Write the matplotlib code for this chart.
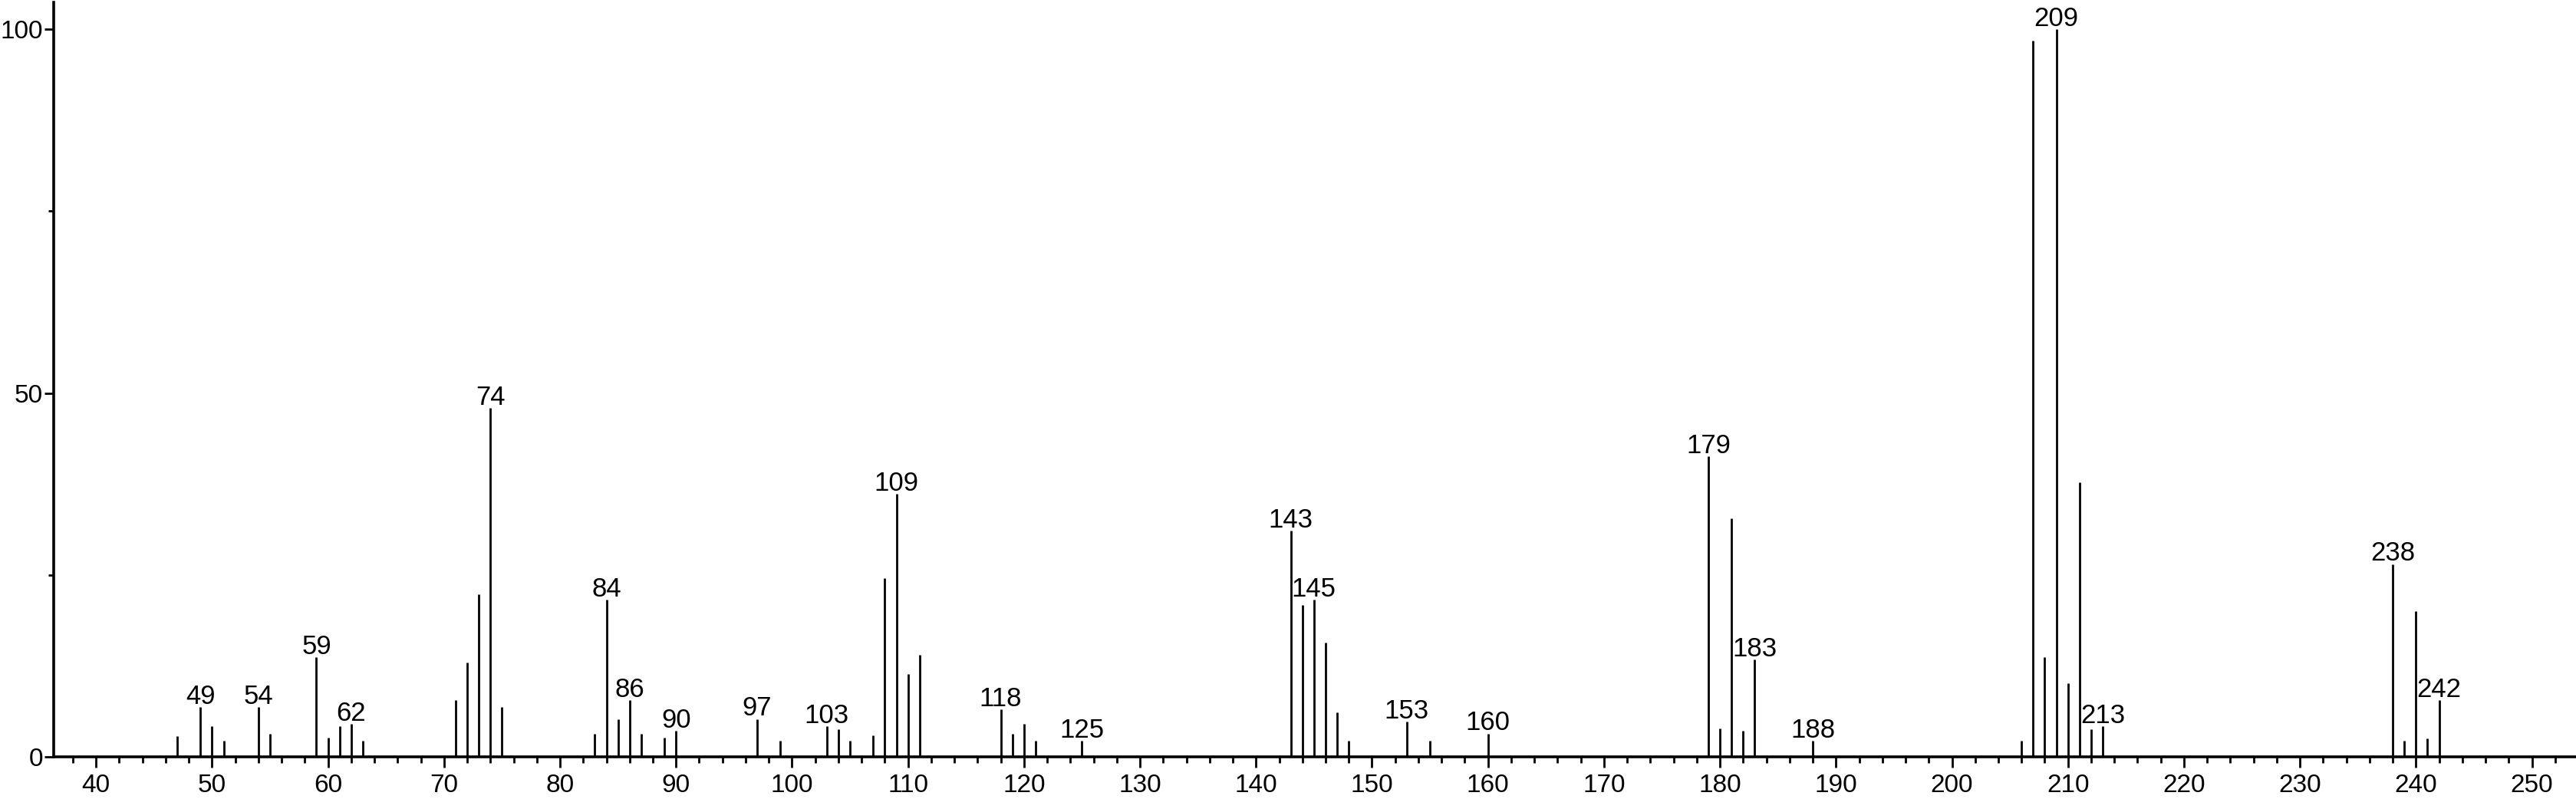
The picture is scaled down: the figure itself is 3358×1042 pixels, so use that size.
import numpy as np
from matplotlib import pyplot as plt

plt.rcParams['font.family'] = ['Liberation Sans', 'DejaVu Sans']

# m/z values and relative intensities
MZ = [47, 49, 50, 51, 54, 55, 59, 60, 61, 62, 63,
      71, 72, 73, 74, 75,
      83, 84, 85, 86, 87, 89, 90, 97, 99,
      103, 104, 105, 107, 108, 109, 110, 111,
      118, 119, 120, 121, 125,
      143, 144, 145, 146, 147, 148, 153, 155, 160,
      179, 180, 181, 182, 183, 188,
      206, 207, 208, 209, 210, 211, 212, 213,
      238, 239, 240, 241, 242]
INTENSITY = [2.8, 6.8, 4.2, 2.2, 6.8, 3.2, 13.7, 2.6, 4.2, 4.5, 2.2,
             7.8, 13.0, 22.3, 47.9, 6.9,
             3.2, 21.6, 5.2, 7.8, 3.2, 2.6, 3.6, 5.2, 2.2,
             4.2, 3.8, 2.2, 2.9, 24.6, 36.1, 11.4, 14.0,
             6.5, 3.2, 4.5, 2.2, 2.2,
             31.1, 20.9, 21.6, 15.7, 6.1, 2.2, 4.8, 2.2, 3.2,
             41.3, 3.9, 32.8, 3.6, 13.4, 2.2,
             2.2, 98.4, 13.7, 100.0, 10.1, 37.7, 3.8, 4.2,
             26.5, 2.2, 20.0, 2.5, 7.8]
LABELLED = [49, 54, 59, 62, 74, 84, 86, 90, 97, 103, 109, 118, 125,
            143, 145, 153, 160, 179, 183, 188, 209, 213, 238, 242]

X_MAJOR = np.arange(40, 251, 10)
X_MINOR = np.arange(38, 254, 2)
Y_MAJOR = [0, 50, 100]
Y_MINOR = [25, 75]

fig = plt.figure(figsize=(33.58, 10.42), dpi=100)
ax = fig.add_axes([70/3358, 55/1042, 1 - 70/3358, 984/1042])

ax.vlines(MZ, 0, INTENSITY, color='black', lw=2.0)

for m, h in zip(MZ, INTENSITY):
    if m in LABELLED:
        ax.annotate(str(m), (m, h), xytext=(0, -2), textcoords='offset points',
                    ha='center', va='bottom', fontsize=25)

ax.set_xlim(36.35, 253.8)
ax.set_ylim(0, 103.7)

ax.set_xticks(X_MAJOR)
ax.set_xticks(X_MINOR, minor=True)
ax.set_yticks(Y_MAJOR)
ax.set_yticks(Y_MINOR, minor=True)

ax.spines['top'].set_visible(False)
ax.spines['right'].set_visible(False)
ax.spines['left'].set_linewidth(2.6)
ax.spines['bottom'].set_linewidth(2.6)

ax.tick_params(axis='x', which='major', length=10, width=2.0, labelsize=24, pad=6)
ax.tick_params(axis='x', which='minor', length=5.5, width=2.0)
ax.tick_params(axis='y', which='major', length=9, width=2.0, labelsize=24, pad=1)
ax.tick_params(axis='y', which='minor', length=5, width=2.0)

fig.savefig('out.png', dpi=100)
